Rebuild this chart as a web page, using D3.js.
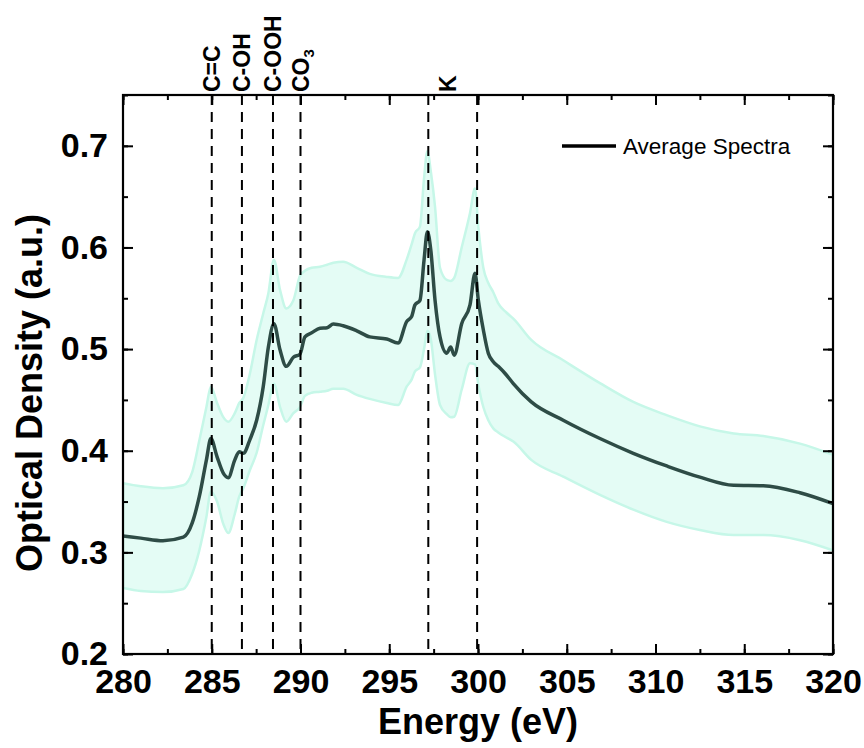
<!DOCTYPE html>
<html>
<head>
<meta charset="utf-8">
<script src="https://cdn.jsdelivr.net/npm/d3@7"></script>
<style>
  body { margin: 0; background: #fff; }
  svg { font-family: Arial, "Liberation Sans", sans-serif; }
</style>
</head>
<body>
<svg id="svg"></svg>
<script>
// spectrum: energy (eV), mean and the band around it
var energy = [280.0, 281.0, 282.25, 283.4, 283.9, 284.3, 284.7, 284.95, 285.3, 285.65,
  285.93, 286.3, 286.55, 286.78, 287.15, 287.53, 287.9, 288.19, 288.5, 288.85,
  289.2, 289.6, 289.97, 290.25, 290.63, 291.1, 291.5, 291.85, 292.4, 293.17,
  293.9, 294.86, 295.5, 295.98, 296.26, 296.45, 296.73, 296.96, 297.15, 297.34,
  297.58, 297.86, 298.24, 298.46, 298.66, 299.08, 299.55, 299.83, 300.02, 300.3,
  300.58, 300.86, 301.14, 301.6, 301.99, 303.0, 304.8, 306.87, 308.75, 310.63,
  312.5, 314.4, 316.07, 318.14, 320.0];
var meanOD = [0.316, 0.314, 0.3115, 0.315, 0.329, 0.355, 0.391, 0.412, 0.394, 0.378,
  0.3735, 0.391, 0.399, 0.3975, 0.411, 0.430, 0.463, 0.502, 0.525, 0.499,
  0.483, 0.492, 0.495, 0.512, 0.516, 0.5205, 0.521, 0.5247, 0.523, 0.518,
  0.512, 0.510, 0.506, 0.527, 0.532, 0.5435, 0.548, 0.5875, 0.6155, 0.5975,
  0.548, 0.512, 0.496, 0.502, 0.494, 0.525, 0.5435, 0.5745, 0.548, 0.519,
  0.496, 0.4876, 0.483, 0.4745, 0.466, 0.448, 0.430, 0.412, 0.3975, 0.385,
  0.374, 0.366, 0.3656, 0.3587, 0.348];
var upperOD = [0.368, 0.365, 0.363, 0.366, 0.379, 0.41, 0.443, 0.463, 0.447, 0.433,
  0.4285, 0.437, 0.447, 0.452, 0.476, 0.509, 0.535, 0.555, 0.588, 0.558,
  0.540, 0.548, 0.572, 0.577, 0.580, 0.581, 0.583, 0.585, 0.586, 0.580,
  0.574, 0.571, 0.570, 0.588, 0.603, 0.614, 0.6205, 0.668, 0.695, 0.675,
  0.640, 0.580, 0.568, 0.567, 0.570, 0.600, 0.634, 0.658, 0.62, 0.58,
  0.565, 0.556, 0.545, 0.536, 0.530, 0.509, 0.489, 0.4665, 0.448, 0.435,
  0.424, 0.417, 0.4145, 0.407, 0.396];
var lowerOD = [0.265, 0.262, 0.261, 0.264, 0.279, 0.302, 0.335, 0.36, 0.35, 0.328,
  0.319, 0.338, 0.355, 0.363, 0.381, 0.398, 0.425, 0.445, 0.466, 0.443,
  0.4285, 0.437, 0.443, 0.454, 0.457, 0.458, 0.459, 0.461, 0.461, 0.455,
  0.451, 0.447, 0.445, 0.463, 0.470, 0.478, 0.482, 0.50, 0.518, 0.51,
  0.475, 0.445, 0.436, 0.433, 0.4335, 0.46, 0.486, 0.485, 0.465, 0.443,
  0.430, 0.422, 0.418, 0.413, 0.409, 0.391, 0.3745, 0.3565, 0.342, 0.330,
  0.322, 0.317, 0.317, 0.312, 0.302];

var xTicks = [280, 285, 290, 295, 300, 305, 310, 315, 320];
var yTicks = [0.2, 0.3, 0.4, 0.5, 0.6, 0.7];

// edge markers
var markE = [285.0, 286.7, 288.45, 290.0, 297.2, 299.95];
var markLabels = ['C=C', 'C-OH', 'C-OOH', 'CO3', 'K'];
var markLabelE = [285.0, 286.7, 288.45, 290.0, 298.3];

var width = 864, height = 748;
var pL = 123, pR = 833, pT = 95, pB = 654;

var svg = d3.select('#svg').attr('width', width).attr('height', height);

var x = d3.scaleLinear().domain([280, 320]).range([pL, pR]);
var y = d3.scaleLinear().domain([0.2, 0.75]).range([pB, pT]);

var rows = energy.map(function (e, i) {
  return { e: e, m: meanOD[i], hi: upperOD[i], lo: lowerOD[i] };
});

svg.append('clipPath').attr('id', 'clip')
  .append('rect').attr('x', pL).attr('y', pT)
  .attr('width', pR - pL).attr('height', pB - pT);

var plot = svg.append('g').attr('clip-path', 'url(#clip)');

var band = d3.area()
  .x(function (d) { return x(d.e); })
  .y0(function (d) { return y(d.lo); })
  .y1(function (d) { return y(d.hi); })
  .curve(d3.curveMonotoneX);

plot.append('path').datum(rows)
  .attr('d', band)
  .attr('fill', '#e4fcf5')
  .attr('stroke', '#c6f7e8')
  .attr('stroke-width', 2.5);

var meanLine = d3.line()
  .x(function (d) { return x(d.e); })
  .y(function (d) { return y(d.m); })
  .curve(d3.curveMonotoneX);

plot.append('path').datum(rows)
  .attr('d', meanLine)
  .attr('fill', 'none')
  .attr('stroke', '#2e4c46')
  .attr('stroke-width', 3.5)
  .attr('stroke-linejoin', 'round');

// dashed markers
svg.selectAll('line.mark').data(markE).enter().append('line')
  .attr('class', 'mark')
  .attr('x1', function (d) { return x(d); })
  .attr('x2', function (d) { return x(d); })
  .attr('y1', y(0.75))
  .attr('y2', y(0.205))
  .attr('stroke', '#000')
  .attr('stroke-width', 2)
  .attr('stroke-dasharray', '10,7');

var lab = svg.selectAll('text.mark').data(markLabels).enter().append('text')
  .attr('class', 'mark')
  .attr('transform', function (d, i) {
    return 'translate(' + x(markLabelE[i]) + ',' + (pT - 3) + ') rotate(-90)';
  })
  .attr('dy', '0.36em')
  .attr('font-size', 23)
  .attr('font-weight', 'bold');
lab.each(function (d) {
  var t = d3.select(this);
  if (d === 'CO3') {
    t.append('tspan').text('CO');
    t.append('tspan').text('3').attr('font-size', 15).attr('dy', '0.35em');
  } else {
    t.text(d);
  }
});

// axes, ticks inward
var xMinor = d3.range(280, 320.1, 2.5);
var yMinor = d3.range(0.2, 0.751, 0.05);

svg.append('g').attr('transform', 'translate(0,' + pB + ')')
  .call(d3.axisBottom(x).tickValues(xMinor).tickSize(-5).tickFormat(''));
svg.append('g').attr('transform', 'translate(0,' + pB + ')')
  .call(d3.axisBottom(x).tickValues(xTicks).tickSize(-10).tickPadding(15).tickFormat(d3.format('d')));
svg.append('g').attr('transform', 'translate(0,' + pT + ')')
  .call(d3.axisTop(x).tickValues(xMinor).tickSize(-5).tickFormat(''));
svg.append('g').attr('transform', 'translate(0,' + pT + ')')
  .call(d3.axisTop(x).tickValues(xTicks).tickSize(-10).tickFormat(''));

svg.append('g').attr('transform', 'translate(' + pL + ',0)')
  .call(d3.axisLeft(y).tickValues(yMinor).tickSize(-5).tickFormat(''));
svg.append('g').attr('transform', 'translate(' + pL + ',0)')
  .call(d3.axisLeft(y).tickValues(yTicks).tickSize(-10).tickPadding(15).tickFormat(d3.format('.1f')));
svg.append('g').attr('transform', 'translate(' + pR + ',0)')
  .call(d3.axisRight(y).tickValues(yMinor).tickSize(-5).tickFormat(''));
svg.append('g').attr('transform', 'translate(' + pR + ',0)')
  .call(d3.axisRight(y).tickValues(yTicks).tickSize(-10).tickFormat(''));

svg.selectAll('.domain').remove();
svg.selectAll('.tick line').attr('stroke', '#000').attr('stroke-width', 2);
svg.selectAll('.tick text')
  .attr('font-family', 'Arial, "Liberation Sans", sans-serif')
  .attr('font-size', 34)
  .attr('font-weight', 'bold')
  .attr('fill', '#000');

svg.append('rect')
  .attr('x', pL).attr('y', pT)
  .attr('width', pR - pL).attr('height', pB - pT)
  .attr('fill', 'none').attr('stroke', '#000').attr('stroke-width', 2.2);

// axis titles
svg.append('text')
  .attr('x', (pL + pR) / 2).attr('y', 734)
  .attr('text-anchor', 'middle')
  .attr('font-size', 36).attr('font-weight', 'bold')
  .text('Energy (eV)');

svg.append('text')
  .attr('transform', 'translate(42,' + 393 + ') rotate(-90)')
  .attr('text-anchor', 'middle')
  .attr('font-size', 36).attr('font-weight', 'bold')
  .text('Optical Density (a.u.)');

// legend
svg.append('line')
  .attr('x1', 562).attr('x2', 616).attr('y1', 146).attr('y2', 146)
  .attr('stroke', '#000').attr('stroke-width', 3.5);
svg.append('text')
  .attr('x', 623).attr('y', 146).attr('dy', '0.36em')
  .attr('font-size', 22.5)
  .text('Average Spectra');
</script>
</body>
</html>
